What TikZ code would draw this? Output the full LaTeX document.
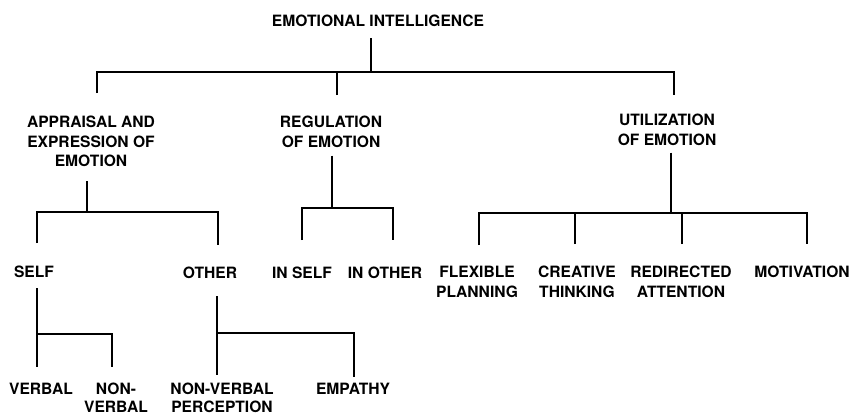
\documentclass[tikz,border=0pt]{standalone}
\usepackage{fontspec}
\setmainfont{TeX Gyre Heros}
\usepackage{tikz}
\tikzstyle{term} = [font=\fontsize{15.6}{19.5}\selectfont\bfseries, align=center, inner sep=0pt, anchor=north]
\tikzstyle{leaf} = [term, font=\fontsize{15.6}{18}\selectfont\bfseries]
\tikzstyle{tree} = [line width=1.1pt]

\begin{document}
\begin{tikzpicture}[x=1pt, y=-1pt]
    \useasboundingbox (0,0) rectangle (854,416);
    % the four levels
    \node (ei) [term] at (378,15) {EMOTIONAL INTELLIGENCE};
    \node (app) [term] at (91,116) {APPRAISAL AND\\EXPRESSION OF\\EMOTION};
    \node (reg) [term] at (331,116) {REGULATION\\OF EMOTION};
    \node (util) [term] at (667,114) {UTILIZATION\\OF EMOTION};
    \node (self) [term] at (34,266) {SELF};
    \node (other) [term] at (210,267) {OTHER};
    \node (inself) [term] at (302,267) {IN SELF};
    \node (inother) [term] at (385,267) {IN OTHER};
    \node (flex) [term] at (477,266) {FLEXIBLE\\PLANNING};
    \node (creat) [term] at (577,266) {CREATIVE\\THINKING};
    \node (redir) [term] at (681,266) {REDIRECTED\\ATTENTION};
    \node (motiv) [term] at (802,266) {MOTIVATION};
    \node (verbal) [leaf] at (41,383) {VERBAL};
    \node (nonverbal) [leaf] at (116,383) {NON-\\VERBAL};
    \node (nvp) [leaf] at (222,383) {NON-VERBAL\\PERCEPTION};
    \node (empathy) [leaf] at (353,383) {EMPATHY};
    % where the stems meet the bars
    \coordinate (ei-bar) at (371,72);
    \coordinate (app-bar) at (87,212);
    \coordinate (reg-bar) at (332,208);
    \coordinate (util-bar) at (671,213);
    \coordinate (self-bar) at (37,334);
    \coordinate (other-bar) at (217,333);
    % top bracket
    \draw [tree] ([xshift=-7,yshift=-11]ei.south) -- (ei-bar);
    \draw [tree] ([xshift=6,yshift=23]app.north) |- (ei-bar) -| ([xshift=7,yshift=19]util.north);
    \draw [tree] ([xshift=6,yshift=21]reg.north) -- ++(0,-23);
    % second level
    \draw [tree] ([xshift=-4,yshift=-14]app.south) -- (app-bar);
    \draw [tree] ([xshift=3,yshift=23]self.north) |- (app-bar) -| ([xshift=8,yshift=22]other.north);
    \draw [tree] ([xshift=1,yshift=-8]reg.south) -- (reg-bar);
    \draw [tree] ([yshift=27]inself.north) |- (reg-bar) -| ([xshift=8,yshift=27]inother.north);
    \draw [tree] ([xshift=4,yshift=-7]util.south) -- (util-bar);
    \draw [tree] ([xshift=2,yshift=21]flex.north) |- (util-bar) -| ([xshift=5,yshift=22]motiv.north);
    \draw [tree] ([xshift=-2,yshift=22]creat.north) -- ++(0,-31);
    \draw [tree] ([xshift=1,yshift=22]redir.north) -- ++(0,-31);
    % third level
    \draw [tree] ([xshift=3,yshift=-10]self.south) -- ([xshift=-4,yshift=16]verbal.north);
    \draw [tree] (self-bar) -| ([xshift=-4,yshift=16]nonverbal.north);
    \draw [tree] ([xshift=7,yshift=-17]other.south) -- ([xshift=-5,yshift=8]nvp.north);
    \draw [tree] (other-bar) -| ([xshift=1,yshift=6]empathy.north);
\end{tikzpicture}
\end{document}
